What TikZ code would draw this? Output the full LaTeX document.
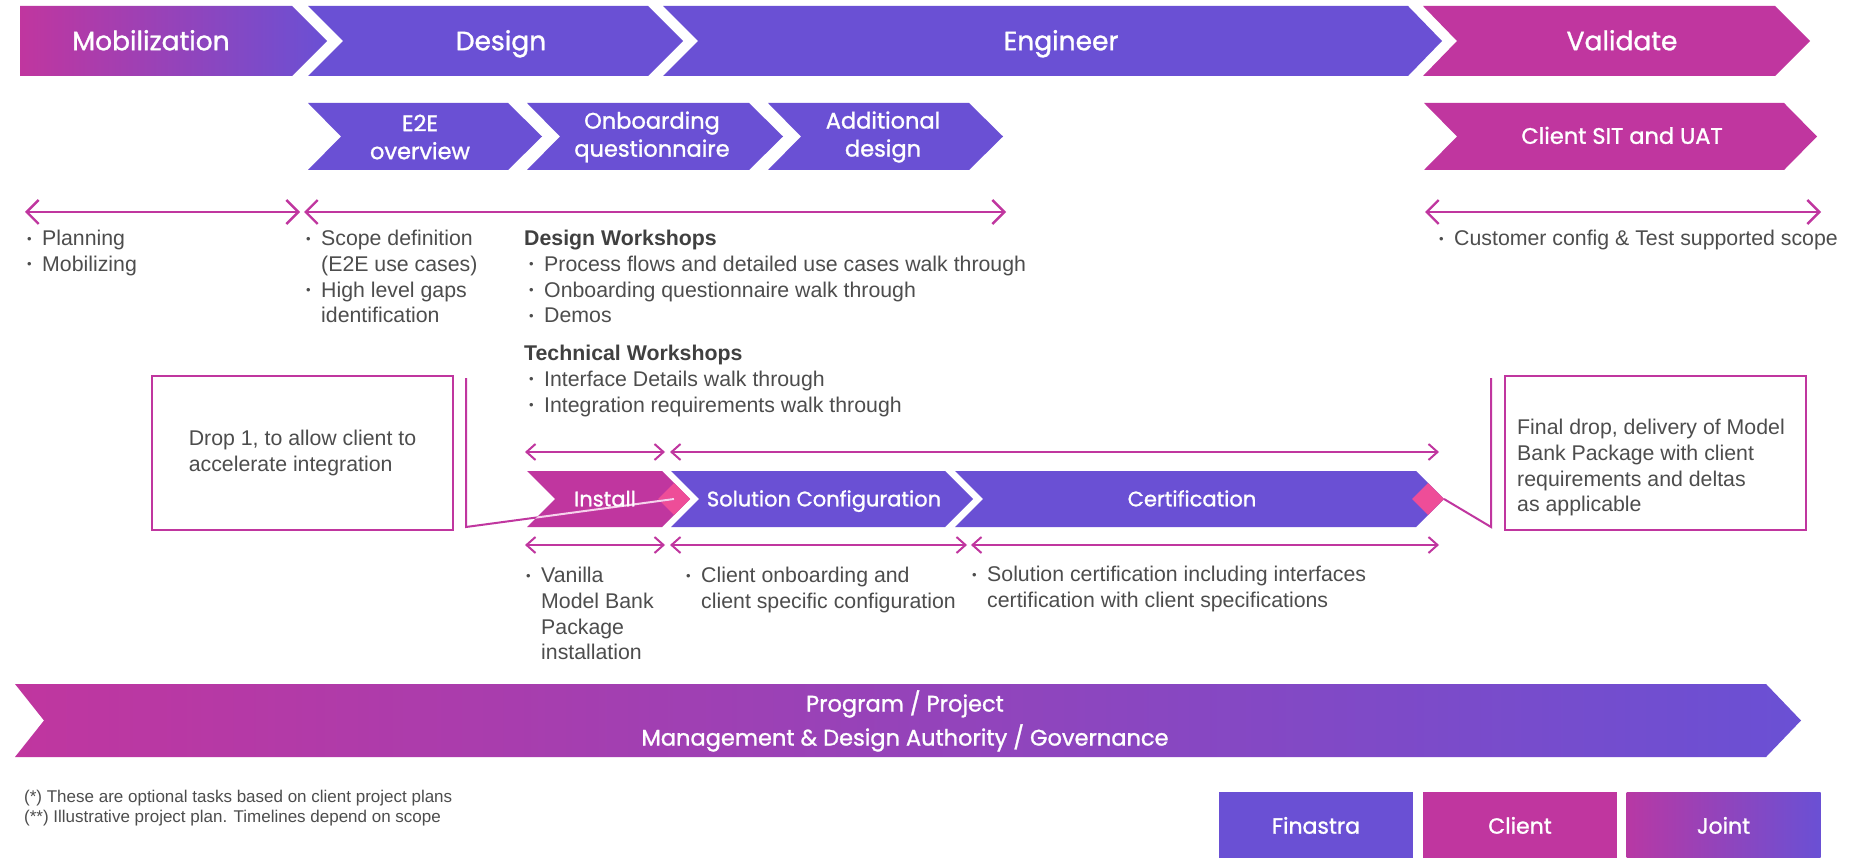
\documentclass[tikz,border=0pt]{standalone}
\usepackage{fontspec}
\setmainfont{Liberation Sans}
\newfontfamily\headfont{Poppins}[FakeBold=1.2]
\usetikzlibrary{arrows.meta}
\definecolor{fpurple}{HTML}{6A50D4}
\definecolor{fmagenta}{HTML}{C0369F}
\definecolor{fpink}{HTML}{EE4D98}
\definecolor{ftext}{HTML}{4D4D4D}
\definecolor{fhead}{HTML}{404040}
\definecolor{flight}{HTML}{F6D2EC}

% chevron: options, left x, notch depth, flat right x, tip depth, top y, bottom y
\newcommand\chevron[7]{\path[#1] (#2,#6) -- (#4,#6) -- ({#4+#5},{(#6+#7)/2}) -- (#4,#7) -- (#2,#7) -- ({#2+#3},{(#6+#7)/2}) -- cycle;}
\newcommand\bitem[1]{\makebox[15pt][l]{\raisebox{2.5pt}{\fontsize{13}{13}\selectfont\textbullet}}#1}
\newcommand\bcont[1]{\hspace*{15pt}#1}

\tikzset{
  phase/.style={text=white, font=\headfont\fontsize{26.5}{32}\selectfont, inner sep=0pt, text height=18.5pt, text depth=0pt},
  task/.style={text=white, font=\headfont\fontsize{22.5}{28}\selectfont, align=center, inner sep=0pt},
  stage/.style={text=white, font=\headfont\fontsize{21}{25}\selectfont, inner sep=0pt, text height=14.7pt, text depth=0pt},
  body/.style={text=ftext, font=\fontsize{21.3}{25.7}\selectfont, align=left, anchor=north west, inner sep=0pt},
  span/.style={draw=fmagenta, line width=2.4pt, {Straight Barb[length=12pt,width=24pt]}-{Straight Barb[length=12pt,width=24pt]}},
  subspan/.style={draw=fmagenta, line width=2pt, {Straight Barb[length=9pt,width=16pt]}-{Straight Barb[length=9pt,width=16pt]}},
  callout/.style={draw=fmagenta, line width=2pt},
  notebox/.style={draw=fmagenta, line width=2pt, minimum width=301pt, minimum height=154pt, inner sep=0pt},
  legend/.style={text=white, font=\headfont\fontsize{22}{26}\selectfont, minimum width=194pt, minimum height=68pt, inner sep=0pt}
}

\begin{document}
\begin{tikzpicture}[x=1pt,y=-1pt]
\useasboundingbox[fill=white] (0,0) rectangle (1870,858);

% phases
\chevron{left color=fmagenta, right color=fpurple}{20}{0}{292}{35}{6}{76}
\chevron{fill=fpurple}{308}{35}{648}{35}{6}{76}
\chevron{fill=fpurple}{663}{35}{1408}{34}{6}{76}
\chevron{fill=fmagenta}{1423}{34}{1775}{35}{6}{76}
\node[phase] (mob) at (151,41) {Mobilization};
\node[phase] (des) at (501,41) {Design};
\node[phase] (eng) at (1061,41) {Engineer};
\node[phase] (val) at (1622,41) {Validate};

% design tasks and client testing
\chevron{fill=fpurple}{308}{33}{508}{34}{103}{170}
\chevron{fill=fpurple}{527}{33}{749}{34}{103}{170}
\chevron{fill=fpurple}{768}{33}{969}{34}{103}{170}
\chevron{fill=fmagenta}{1424}{33}{1784}{33}{103}{170}
\node[task] (e2e) at (420,137) {E2E\\overview};
\node[task] (onb) at (652,137) {Onboarding\\questionnaire};
\node[task] (add) at (883,137) {Additional\\design};
\node[task, text height=15.7pt, text depth=0pt] (sit) at (1622,136) {Client SIT and UAT};

% phase spans
\coordinate (mobL) at (25,212);   \coordinate (mobR) at (300,212);
\coordinate (desL) at (304,212);  \coordinate (desR) at (1006,212);
\coordinate (valL) at (1425,212); \coordinate (valR) at (1821,212);
\draw[span] (mobL) -- (mobR);
\draw[span] (desL) -- (desR);
\draw[span] (valL) -- (valR);

\node[body] (plan) at (27,230) {\bitem{Planning}\\\bitem{Mobilizing}};
\node[body] (scope) at (306,230) {\bitem{Scope definition}\\\bcont{(E2E use cases)}\\\bitem{High level gaps}\\\bcont{identification}};
\node[body] (dws) at (524,230) {{\bfseries\color{fhead}Design Workshops}\\
  \hspace*{5pt}\bitem{Process flows and detailed use cases walk through}\\
  \hspace*{5pt}\bitem{Onboarding questionnaire walk through}\\
  \hspace*{5pt}\bitem{Demos}};
\node[body] (tws) at (524,345) {{\bfseries\color{fhead}Technical Workshops}\\
  \hspace*{5pt}\bitem{Interface Details walk through}\\
  \hspace*{5pt}\bitem{Integration requirements walk through}};
\node[body] (cust) at (1439,230) {\bitem{Customer config \& Test supported scope}};

% engineering stages
\chevron{fill=fmagenta}{527}{28}{662}{28}{471}{527}
\chevron{fill=fpurple}{671}{28}{945}{28}{471}{527}
\chevron{fill=fpurple}{955}{28}{1416}{28}{471}{527}
\fill[fpink] (690,499) -- (674,483) -- (658,499) -- (674,515) -- cycle;
\fill[fpink] (1444,499) -- (1428,483) -- (1412,499) -- (1428,515) -- cycle;

\coordinate (insTL) at (525,452); \coordinate (insTR) at (665,452);
\coordinate (engTL) at (670,452); \coordinate (engTR) at (1439,452);
\coordinate (insBL) at (525,545); \coordinate (insBR) at (665,545);
\coordinate (solBL) at (670,545); \coordinate (solBR) at (967,545);
\coordinate (cerBL) at (971,545); \coordinate (cerBR) at (1439,545);
\draw[subspan] (insTL) -- (insTR);
\draw[subspan] (engTL) -- (engTR);
\draw[subspan] (insBL) -- (insBR);
\draw[subspan] (solBL) -- (solBR);
\draw[subspan] (cerBL) -- (cerBR);

% drop callouts
\node[notebox, body, anchor=center, align=left] (drop) at (302.5,453) {Drop 1, to allow client to\\accelerate integration};
\node[notebox] (final) at (1655,453) {};
\node[body] (finaltxt) at (1517,419) {Final drop, delivery of Model\\Bank Package with client\\requirements and deltas\\as applicable};

\coordinate (dropTop) at (466,378);   \coordinate (dropFoot) at (466,527);
\coordinate (installPin) at (674,499);
\coordinate (finalTop) at (1491,378); \coordinate (finalFoot) at (1491,527);
\coordinate (certPin) at (1444,499);
\draw[callout] (dropTop) -- (dropFoot) -- (installPin);
\begin{scope}
  \clip (527,471) -- (662,471) -- (690,499) -- (662,527) -- (527,527) -- (555,499) -- cycle;
  \draw[flight, line width=2pt] (dropFoot) -- (installPin);
\end{scope}
\draw[callout] (certPin) -- (finalFoot) -- (finalTop);

\node[stage] (ins) at (605,499) {Install};
\node[stage] (sol) at (824,499) {Solution Configuration};
\node[stage] (cer) at (1192,499) {Certification};

\node[body] (van) at (526,567) {\bitem{Vanilla}\\\bcont{Model Bank}\\\bcont{Package}\\\bcont{installation}};
\node[body] (cob) at (686,567) {\bitem{Client onboarding and}\\\bcont{client specific configuration}};
\node[body] (scer) at (972,566) {\bitem{Solution certification including interfaces}\\\bcont{certification with client specifications}};

% governance bar
\chevron{left color=fmagenta, right color=fpurple}{15}{29}{1766}{35}{684}{757}
\node[task, font=\headfont\fontsize{22.5}{34}\selectfont] (gov) at (905,721) {Program / Project\\Management \& Design Authority / Governance};

% footnotes
\node[body, font=\fontsize{17}{20}\selectfont] (foot) at (24,790) {(*) These are optional tasks based on client project plans\\(**) Illustrative project plan. Timelines depend on scope};

% legend
\node[legend, fill=fpurple, text height=15.4pt, text depth=0pt] (lfin) at (1316,826) {Finastra};
\node[legend, fill=fmagenta, text height=15.4pt, text depth=0pt] (lcli) at (1520,826) {Client};
\node[legend, left color=fmagenta!90!fpurple, right color=fpurple, text height=15.4pt, text depth=0pt] (ljoi) at (1723.5,826) {Joint};
\end{tikzpicture}
\end{document}
